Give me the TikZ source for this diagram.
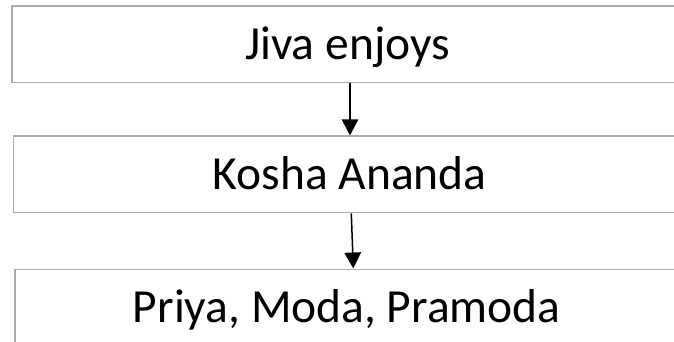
\documentclass[tikz,border=0pt]{standalone}
\usepackage{fontspec}
\setmainfont{Carlito}
\usetikzlibrary{arrows.meta,calc}
\definecolor{boxline}{RGB}{170,170,170}
\tikzset{
  stagebox/.style={rectangle, inner sep=0pt, anchor=west,
    minimum width=720pt, minimum height=76.4pt},
  stageedge/.style={draw=boxline, line width=1.2pt},
  stagetext/.style={inner sep=0pt, text height=30pt, text depth=0pt,
    font=\fontsize{47.5}{56}\selectfont},
  flowarrow/.style={draw=black, line width=1.5pt,
    -{Triangle[width=16.5pt,length=16pt]}}
}
\begin{document}
\begin{tikzpicture}[x=1pt,y=1pt]
  \useasboundingbox (0,0) rectangle (674,-342);
  \clip (0,0) rectangle (674,-342);
  % stage frames, open towards the right and bottom edges
  \node[stagebox] (jivabox)  at (12,-44.5)   {};
  \node[stagebox] (koshabox) at (13.7,-174.4) {};
  \node[stagebox] (priyabox) at (15,-307.5)  {};
  \foreach \b in {jivabox,koshabox,priyabox}
    \draw[stageedge] (\b.north east) -- (\b.north west) -- (\b.south west) -- (\b.south east);
  % stage labels
  \node[stagetext] (jiva)  at (347.5,-44.5)  {Jiva enjoys};
  \node[stagetext] (kosha) at (349.7,-174.4) {Kosha Ananda};
  \node[stagetext] (priya) at (346.7,-307.5) {Priya, Moda, Pramoda};
  % connectors between stages
  \draw[flowarrow] ($(jiva.center |- jivabox.south)+(2.5,-0.6)$)
                -- ($(jiva.center |- koshabox.north)+(2.5,0.6)$);
  \draw[flowarrow] ($(kosha.center |- koshabox.south)+(1.6,-0.6)$)
                -- ($(priya.center |- priyabox.north)+(6.6,0.6)$);
\end{tikzpicture}
\end{document}
